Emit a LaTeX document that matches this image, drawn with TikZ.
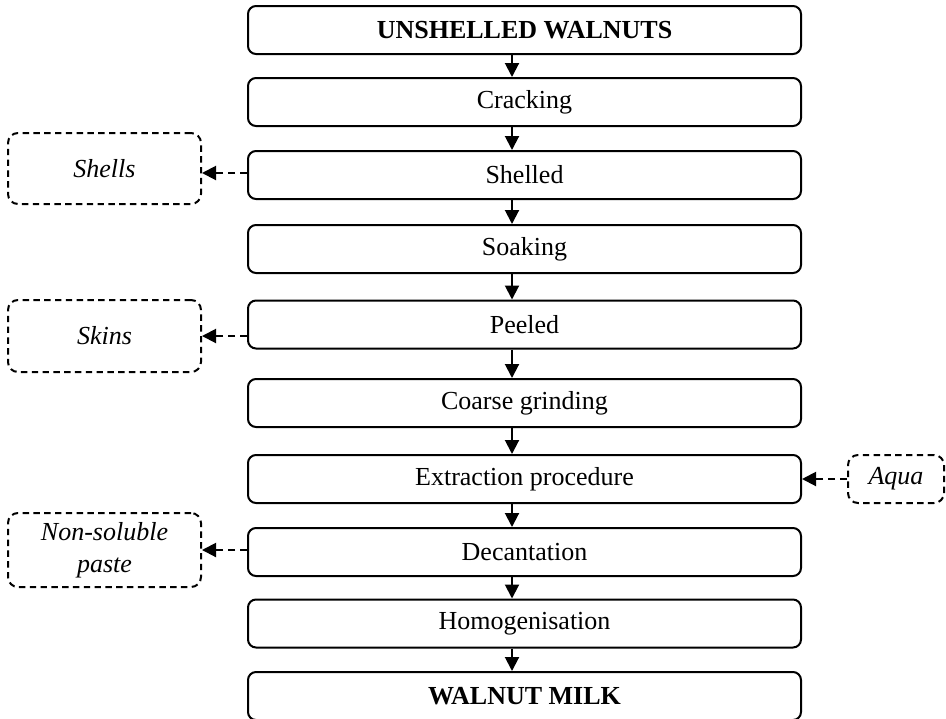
\documentclass[tikz,border=0pt]{standalone}
\usepackage{fontspec}
\setmainfont{Liberation Serif}
\usetikzlibrary{arrows.meta}
\begin{document}
\begin{tikzpicture}[x=0.5pt,y=-0.5pt,
 mainbox/.style={draw,line width=1pt,rounded corners=4pt,minimum width=276.5pt,minimum height=24pt,inner sep=0pt,font=\fontsize{13}{15}\selectfont},
 sidebox/.style={draw,dash pattern=on 3.2pt off 2.2pt,line width=1pt,rounded corners=5pt,minimum width=96.5pt,inner sep=0pt,align=center,font=\fontsize{13}{16}\selectfont\itshape},
 flow/.style={line width=1pt,-{Triangle[width=7pt,length=7pt]}},
 dflow/.style={line width=1pt,dash pattern=on 3.5pt off 2.5pt,-{Triangle[width=7pt,length=7pt]}}]
\useasboundingbox (0,0) rectangle (946,718);
\coordinate (ax) at (512,0);
\node[mainbox] (b1) at (524.5,30) {\textbf{UNSHELLED WALNUTS}};
\node[mainbox] (b2) at (524.5,102) {Cracking};
\node[mainbox] (b3) at (524.5,175) {Shelled};
\node[mainbox] (b4) at (524.5,249) {Soaking};
\node[mainbox] (b5) at (524.5,324.5) {Peeled};
\node[mainbox] (b6) at (524.5,403) {Coarse grinding};
\node[mainbox] (b7) at (524.5,479) {Extraction procedure};
\node[mainbox] (b8) at (524.5,552) {Decantation};
\node[mainbox] (b9) at (524.5,623.5) {Homogenisation};
\node[mainbox] (b10) at (524.5,696) {\textbf{WALNUT MILK}};
\node[sidebox,minimum height=35.5pt] (sh) at (104.5,168.5) {Shells};
\node[sidebox,minimum height=36pt] (sk) at (104.5,336) {Skins};
\node[sidebox,minimum height=37pt] (np) at (104.5,550) {Non-soluble\\paste};
\node[sidebox,minimum height=24pt,minimum width=48pt] (aq) at (896,479) {Aqua};
\foreach \a/\b in {b1/b2,b2/b3,b3/b4,b4/b5,b5/b6,b6/b7,b7/b8,b8/b9,b9/b10}
  \draw[flow] (\a.south -| ax) -- (\b.north -| ax);
\draw[dflow] (b3.west |- 0,173) -- (sh.east |- 0,173);
\draw[dflow] (b5.west |- sk) -- (sk.east);
\draw[dflow] (b8.west |- np) -- (np.east);
\draw[dflow] (aq.west) -- (b7.east |- aq);
\end{tikzpicture}
\end{document}
